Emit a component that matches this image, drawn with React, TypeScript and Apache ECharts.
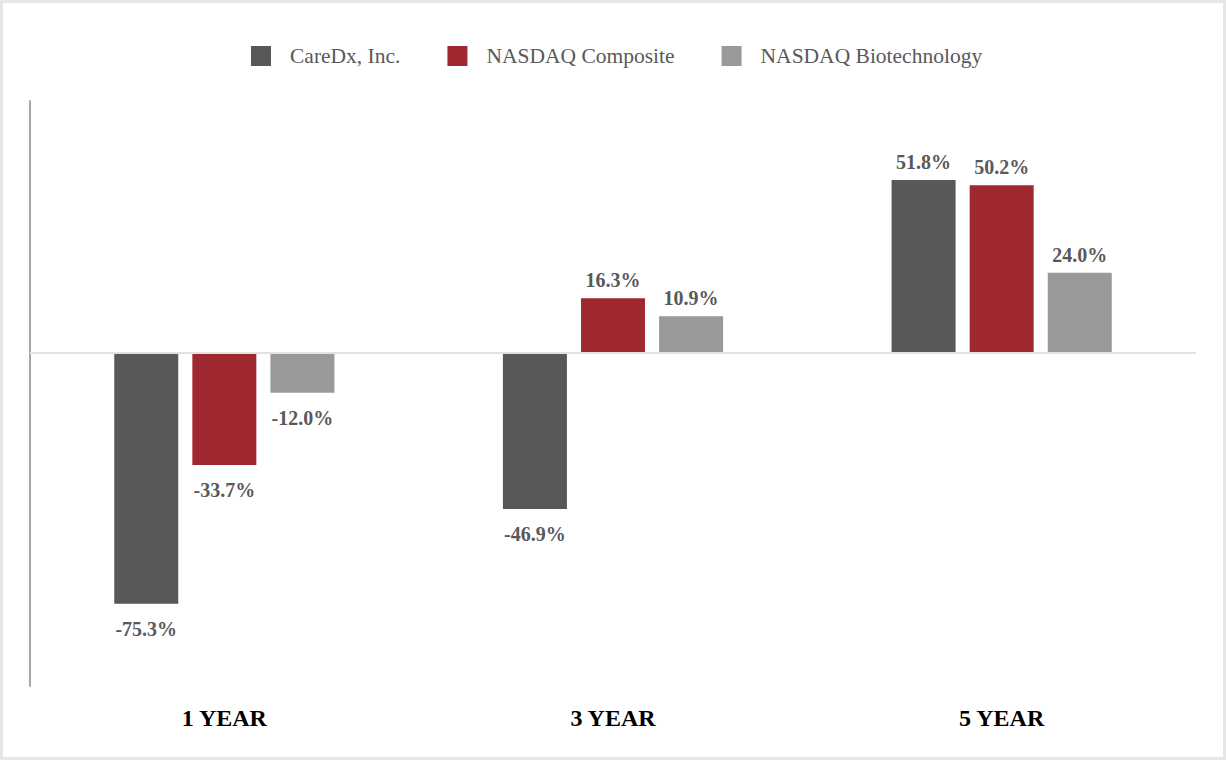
import React, { useEffect, useRef } from "react";
import * as echarts from "echarts";

const categories = ["1 YEAR", "3 YEAR", "5 YEAR"];
const seriesNames = ["CareDx, Inc.", "NASDAQ Composite", "NASDAQ Biotechnology"];
const careDx = [-75.3, -46.9, 51.8];
const nasdaqComposite = [-33.7, 16.3, 50.2];
const nasdaqBiotech = [-12.0, 10.9, 24.0];
const colors = ["#58585a", "#9f2830", "#999999"];

export default function App() {
  const ref = useRef<HTMLDivElement>(null);
  useEffect(() => {
    if (!ref.current) return;
    const chart = echarts.init(ref.current, null, { renderer: "svg" });
    const allData = [careDx, nasdaqComposite, nasdaqBiotech];
    const series: any[] = allData.map((arr, i) => ({
      name: seriesNames[i],
      type: "bar",
      barWidth: 64,
      barGap: "22%",
      itemStyle: { color: colors[i] },
      data: arr.map((v) => ({
        value: v,
        label: {
          position: v < 0 ? "bottom" : "top",
          distance: v < 0 ? 15 : 8,
        },
      })),
      label: {
        show: true,
        formatter: (p: any) => p.value.toFixed(1) + "%",
        fontFamily: "Liberation Serif",
        fontWeight: "bold",
        fontSize: 20,
        color: "#595959",
      },
      markLine:
        i === 0
          ? {
              silent: true,
              symbol: "none",
              label: { show: false },
              lineStyle: { color: "#e2e2e2", width: 2, type: "solid" },
              data: [{ yAxis: 0 }],
            }
          : undefined,
    }));
    chart.setOption({
      animation: false,
      textStyle: { fontFamily: "Liberation Serif" },
      legend: {
        top: 40,
        left: 246,
        itemWidth: 20,
        itemHeight: 20,
        itemGap: 47,
        icon: "rect",
        textStyle: {
          fontFamily: "Liberation Serif",
          fontSize: 21.5,
          color: "#595959",
          padding: [0, 0, 0, 14],
        },
        data: seriesNames,
      },
      grid: { left: 30, right: 30, top: 101, bottom: 74 },
      xAxis: {
        type: "category",
        data: categories,
        axisLine: { show: false, onZero: false },
        axisTick: { show: false },
        axisLabel: {
          margin: 20,
          fontFamily: "Liberation Serif",
          fontWeight: "bold",
          fontSize: 24,
          color: "#000000",
        },
      },
      yAxis: {
        type: "value",
        min: -100,
        max: 75.5,
        interval: 25,
        axisLine: { show: true, lineStyle: { color: "#a6a6a6", width: 2 } },
        axisTick: { show: false },
        axisLabel: { show: false },
        splitLine: { show: false },
      },
      series,
    });
    return () => chart.dispose();
  }, []);
  return (
    <div
      style={{
        position: "absolute",
        left: 0,
        top: 0,
        width: 1226,
        height: 760,
        boxSizing: "border-box",
        border: "3px solid #e6e6e6",
        background: "#ffffff",
      }}
    >
      <div ref={ref} style={{ position: "absolute", left: -3, top: -3, width: 1226, height: 760 }} />
    </div>
  );
}
